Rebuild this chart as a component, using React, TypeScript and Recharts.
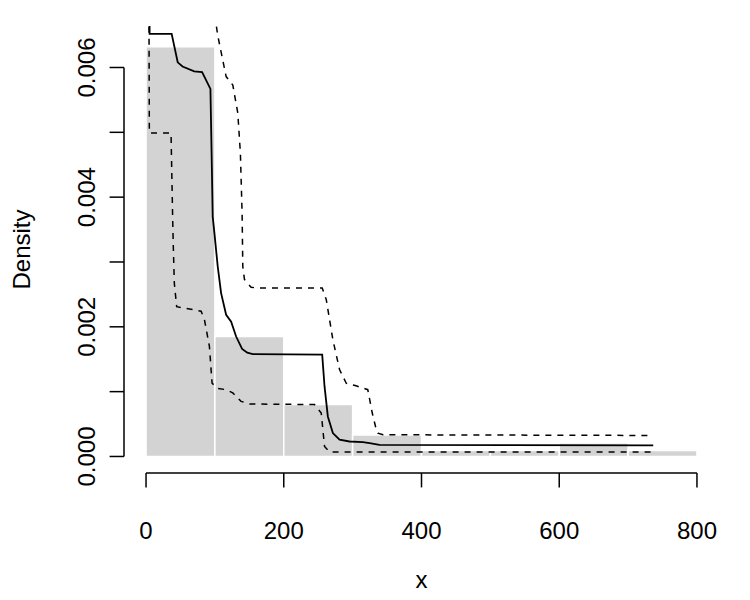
import React from "react";
import {
  ComposedChart,
  Line,
  XAxis,
  YAxis,
  ReferenceArea,
  ReferenceLine,
} from "recharts";

// Histogram bins (start, end) and densities
const binStart = [0, 100, 200, 300, 400, 500, 600, 700];
const binEnd = [100, 200, 300, 400, 500, 600, 700, 800];
const binDensity = [0.00632, 0.00185, 0.0008, 0.00033, 0.0000925, 0.0000925, 0.000207, 0.0000925];

// Density estimate (solid)
const estX = [4.8, 5.2, 37.2, 46, 53, 70, 81.4, 93.5, 95.5, 96.8, 99.3, 104.1, 109, 116.3, 123.6, 130.8, 139.5, 147, 155, 255.8, 259.2, 264, 271.3, 281, 295.5, 315, 324.6, 339, 736.5];
const estY = [0.007, 0.00652, 0.00652, 0.00608, 0.006015, 0.00594, 0.00593, 0.00567, 0.0045, 0.0037, 0.003446, 0.00293, 0.00252, 0.002186, 0.00208, 0.00185, 0.00166, 0.0016, 0.00158, 0.00157, 0.00108, 0.000617, 0.00036, 0.000258, 0.000231, 0.000222, 0.000206, 0.00018, 0.00017];

// Upper band (dashed)
const upperX = [4.8, 100, 104, 116.3, 126, 133.2, 137, 139.5, 140.5, 142.9, 152.6, 160, 255.8, 261.7, 271.3, 281, 290.7, 305, 322, 328.5, 334.4, 336.7, 344, 734];
const upperY = [0.009, 0.0068, 0.0065, 0.00586, 0.00573, 0.0053, 0.00468, 0.00375, 0.00293, 0.00273, 0.00261, 0.0026, 0.0026, 0.00242, 0.0018, 0.00134, 0.00113, 0.00109, 0.00103, 0.00067, 0.00041, 0.00036, 0.000335, 0.000324];

// Lower band (dashed)
const lowerX = [4.2, 4.8, 36.3, 38.7, 39.7, 41.1, 44.5, 55.7, 80, 84.8, 92, 95.9, 104.1, 116.3, 126, 138, 150.2, 244.7, 254.4, 259.2, 266.5, 734];
const lowerY = [0.007, 0.00499, 0.00499, 0.00365, 0.0032, 0.00267, 0.00231, 0.00229, 0.00224, 0.00211, 0.0017, 0.00113, 0.00105, 0.00103, 0.00098, 0.00085, 0.00081, 0.0008, 0.00067, 0.000154, 0.00007, 0.00007];

const xTicks = [0, 200, 400, 600, 800];
const xTickLabels = ["0", "200", "400", "600", "800"];
const yTicks = [0, 0.001, 0.002, 0.003, 0.004, 0.005, 0.006];
const yTickLabels = ["0.000", "", "0.002", "", "0.004", "", "0.006"];

const toData = (xs: number[], ys: number[]) => xs.map((x, i) => ({ x, y: ys[i] }));
const estData = toData(estX, estY);
const upperData = toData(upperX, upperY);
const lowerData = toData(lowerX, lowerY);

const FONT = "'Liberation Sans', Arial, Helvetica, sans-serif";
const FS = 24;

const XTick = (props: any) => {
  const { x, y, payload } = props;
  const i = xTicks.indexOf(payload.value);
  return (
    <text x={x} y={y + 50} textAnchor="middle" fontFamily={FONT} fontSize={FS} fill="#000">
      {i >= 0 ? xTickLabels[i] : ""}
    </text>
  );
};

const YTick = (props: any) => {
  const { x, y, payload } = props;
  const i = yTicks.findIndex((v) => Math.abs(v - payload.value) < 1e-9);
  const label = i >= 0 ? yTickLabels[i] : "";
  const tx = x - 12.5;
  return (
    <text
      x={tx}
      y={y}
      transform={`rotate(-90 ${tx} ${y})`}
      textAnchor="middle"
      fontFamily={FONT}
      fontSize={FS}
      fill="#000"
    >
      {label}
    </text>
  );
};

export default function App() {
  return (
    <div style={{ position: "absolute", left: 0, top: 0, background: "#fff" }}>
      <ComposedChart
        width={750}
        height={600}
        margin={{ top: 26, right: 31, left: 0, bottom: 0 }}
        style={{ background: "#fff" }}
      >
        <XAxis
          dataKey="x"
          type="number"
          domain={[-32, 832]}
          allowDataOverflow
          ticks={xTicks}
          tick={<XTick />}
          tickSize={14.4}
          axisLine={false}
          tickLine={{ stroke: "#000", strokeWidth: 1.5 }}
          height={127}
          interval={0}
          label={{
            content: (p: any) => {
              const vb = p.viewBox || {};
              return (
                <text
                  x={vb.x + vb.width / 2}
                  y={vb.y + 115}
                  textAnchor="middle"
                  fontFamily={FONT}
                  fontSize={FS}
                  fill="#000"
                >
                  x
                </text>
              );
            },
          }}
        />
        <YAxis
          type="number"
          domain={[-0.000255, 0.00664]}
          allowDataOverflow
          ticks={yTicks}
          tick={<YTick />}
          tickSize={14.4}
          axisLine={false}
          tickLine={{ stroke: "#000", strokeWidth: 1.5 }}
          width={124}
          interval={0}
          label={{
            content: (p: any) => {
              const vb = p.viewBox || {};
              const cy = vb.y + vb.height / 2;
              return (
                <text
                  x={30}
                  y={cy}
                  transform={`rotate(-90 30 ${cy})`}
                  textAnchor="middle"
                  fontFamily={FONT}
                  fontSize={FS}
                  fill="#000"
                >
                  Density
                </text>
              );
            },
          }}
        />
        {binStart.map((s, i) => (
          <ReferenceArea
            key={i}
            x1={s}
            x2={binEnd[i]}
            y1={0}
            y2={binDensity[i]}
            fill="#d3d3d3"
            fillOpacity={1}
            stroke="#ffffff"
            strokeWidth={1.5}
            ifOverflow="hidden"
          />
        ))}
        <ReferenceLine
          segment={[{ x: -32, y: 0 }, { x: -32, y: 0.006 }]}
          stroke="#000"
          strokeWidth={1.5}
          ifOverflow="visible"
        />
        <ReferenceLine
          segment={[{ x: 0, y: -0.000255 }, { x: 800, y: -0.000255 }]}
          stroke="#000"
          strokeWidth={1.5}
          ifOverflow="visible"
        />
        <Line
          data={upperData}
          dataKey="y"
          type="linear"
          stroke="#000"
          strokeWidth={1.5}
          strokeDasharray="6 6"
          dot={false}
          activeDot={false}
          isAnimationActive={false}
        />
        <Line
          data={lowerData}
          dataKey="y"
          type="linear"
          stroke="#000"
          strokeWidth={1.5}
          strokeDasharray="6 6"
          dot={false}
          activeDot={false}
          isAnimationActive={false}
        />
        <Line
          data={estData}
          dataKey="y"
          type="linear"
          stroke="#000"
          strokeWidth={1.8}
          dot={false}
          activeDot={false}
          isAnimationActive={false}
        />
      </ComposedChart>
    </div>
  );
}
